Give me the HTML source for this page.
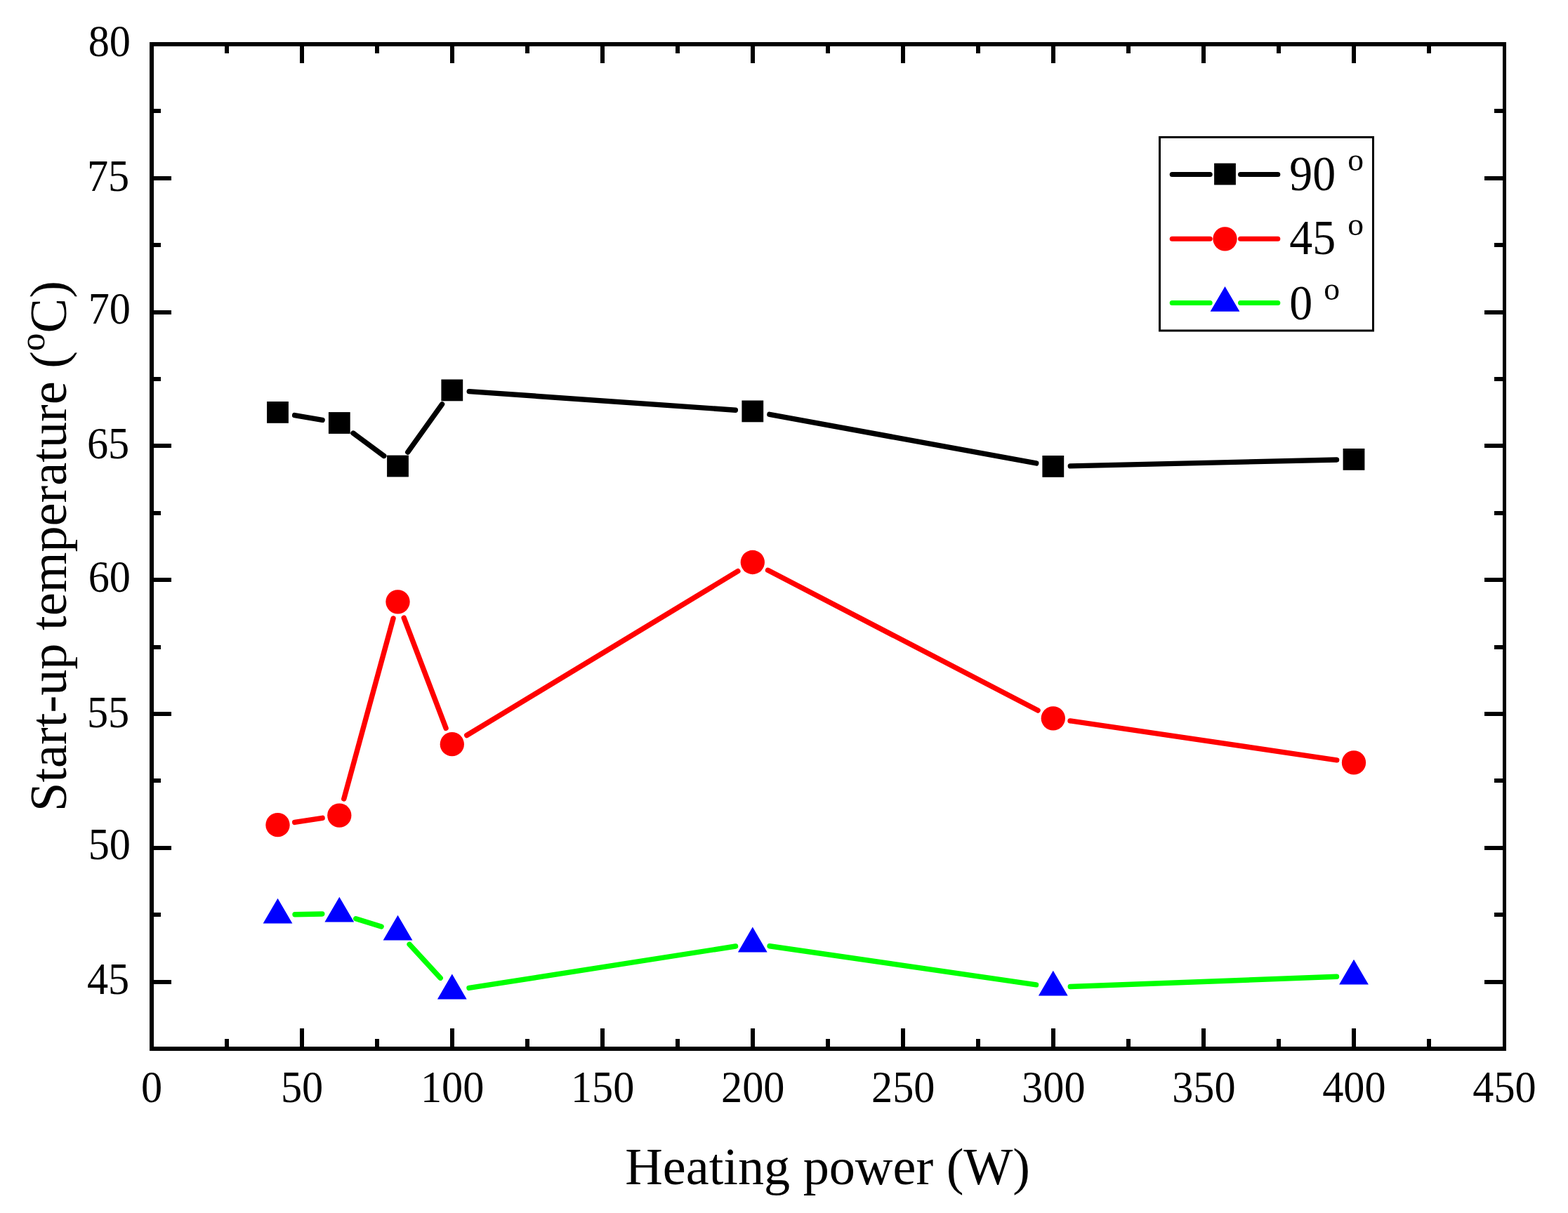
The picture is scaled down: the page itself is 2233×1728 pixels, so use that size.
<!DOCTYPE html>
<html><head><meta charset="utf-8"><title>Start-up temperature vs heating power</title>
<style>html,body{margin:0;padding:0;background:#fff;}body{width:2233px;height:1728px;overflow:hidden;}svg{display:block;}</style>
</head><body>
<svg width="2233" height="1728" viewBox="0 0 2233 1728">
<rect x="0" y="0" width="2233" height="1728" fill="#fff"/>
<g fill="#000" shape-rendering="crispEdges"><rect x="320.03" y="1480.00" width="6.00" height="11.00"/><rect x="320.03" y="66.00" width="6.00" height="10.00"/><rect x="427.06" y="1465.00" width="6.00" height="26.00"/><rect x="427.06" y="66.00" width="6.00" height="23.80"/><rect x="534.08" y="1480.00" width="6.00" height="11.00"/><rect x="534.08" y="66.00" width="6.00" height="10.00"/><rect x="641.11" y="1465.00" width="6.00" height="26.00"/><rect x="641.11" y="66.00" width="6.00" height="23.80"/><rect x="748.14" y="1480.00" width="6.00" height="11.00"/><rect x="748.14" y="66.00" width="6.00" height="10.00"/><rect x="855.17" y="1465.00" width="6.00" height="26.00"/><rect x="855.17" y="66.00" width="6.00" height="23.80"/><rect x="962.19" y="1480.00" width="6.00" height="11.00"/><rect x="962.19" y="66.00" width="6.00" height="10.00"/><rect x="1069.22" y="1465.00" width="6.00" height="26.00"/><rect x="1069.22" y="66.00" width="6.00" height="23.80"/><rect x="1176.25" y="1480.00" width="6.00" height="11.00"/><rect x="1176.25" y="66.00" width="6.00" height="10.00"/><rect x="1283.28" y="1465.00" width="6.00" height="26.00"/><rect x="1283.28" y="66.00" width="6.00" height="23.80"/><rect x="1390.31" y="1480.00" width="6.00" height="11.00"/><rect x="1390.31" y="66.00" width="6.00" height="10.00"/><rect x="1497.33" y="1465.00" width="6.00" height="26.00"/><rect x="1497.33" y="66.00" width="6.00" height="23.80"/><rect x="1604.36" y="1480.00" width="6.00" height="11.00"/><rect x="1604.36" y="66.00" width="6.00" height="10.00"/><rect x="1711.39" y="1465.00" width="6.00" height="26.00"/><rect x="1711.39" y="66.00" width="6.00" height="23.80"/><rect x="1818.42" y="1480.00" width="6.00" height="11.00"/><rect x="1818.42" y="66.00" width="6.00" height="10.00"/><rect x="1925.44" y="1465.00" width="6.00" height="26.00"/><rect x="1925.44" y="66.00" width="6.00" height="23.80"/><rect x="2032.47" y="1480.00" width="6.00" height="11.00"/><rect x="2032.47" y="66.00" width="6.00" height="10.00"/><rect x="219.00" y="1395.60" width="25.00" height="6.00"/><rect x="2114.00" y="1395.60" width="26.00" height="6.00"/><rect x="219.00" y="1300.20" width="10.00" height="6.00"/><rect x="2128.00" y="1300.20" width="12.00" height="6.00"/><rect x="219.00" y="1204.80" width="25.00" height="6.00"/><rect x="2114.00" y="1204.80" width="26.00" height="6.00"/><rect x="219.00" y="1109.40" width="10.00" height="6.00"/><rect x="2128.00" y="1109.40" width="12.00" height="6.00"/><rect x="219.00" y="1014.00" width="25.00" height="6.00"/><rect x="2114.00" y="1014.00" width="26.00" height="6.00"/><rect x="219.00" y="918.60" width="10.00" height="6.00"/><rect x="2128.00" y="918.60" width="12.00" height="6.00"/><rect x="219.00" y="823.20" width="25.00" height="6.00"/><rect x="2114.00" y="823.20" width="26.00" height="6.00"/><rect x="219.00" y="727.80" width="10.00" height="6.00"/><rect x="2128.00" y="727.80" width="12.00" height="6.00"/><rect x="219.00" y="632.40" width="25.00" height="6.00"/><rect x="2114.00" y="632.40" width="26.00" height="6.00"/><rect x="219.00" y="537.00" width="10.00" height="6.00"/><rect x="2128.00" y="537.00" width="12.00" height="6.00"/><rect x="219.00" y="441.60" width="25.00" height="6.00"/><rect x="2114.00" y="441.60" width="26.00" height="6.00"/><rect x="219.00" y="346.20" width="10.00" height="6.00"/><rect x="2128.00" y="346.20" width="12.00" height="6.00"/><rect x="219.00" y="250.80" width="25.00" height="6.00"/><rect x="2114.00" y="250.80" width="26.00" height="6.00"/><rect x="219.00" y="155.40" width="10.00" height="6.00"/><rect x="2128.00" y="155.40" width="12.00" height="6.00"/><rect x="213.00" y="60.00" width="6.00" height="1437.00"/><rect x="213.00" y="60.00" width="1932.00" height="6.00"/><rect x="2140.00" y="60.00" width="5.00" height="1437.00"/><rect x="213.00" y="1491.00" width="1932.00" height="6.00"/></g>
<g font-family="Liberation Serif, Times New Roman, serif" font-size="63.5" fill="#000"><text transform="translate(216.00,1569.8) scale(0.95,1)" text-anchor="middle">0</text><text transform="translate(430.06,1569.8) scale(0.95,1)" text-anchor="middle">50</text><text transform="translate(644.11,1569.8) scale(0.95,1)" text-anchor="middle">100</text><text transform="translate(858.17,1569.8) scale(0.95,1)" text-anchor="middle">150</text><text transform="translate(1072.22,1569.8) scale(0.95,1)" text-anchor="middle">200</text><text transform="translate(1286.28,1569.8) scale(0.95,1)" text-anchor="middle">250</text><text transform="translate(1500.33,1569.8) scale(0.95,1)" text-anchor="middle">300</text><text transform="translate(1714.39,1569.8) scale(0.95,1)" text-anchor="middle">350</text><text transform="translate(1928.44,1569.8) scale(0.95,1)" text-anchor="middle">400</text><text transform="translate(2142.50,1569.8) scale(0.95,1)" text-anchor="middle">450</text><text transform="translate(184.2,1415.50) scale(0.95,1)" text-anchor="end">45</text><text transform="translate(186,1224.20) scale(0.95,1)" text-anchor="end">50</text><text transform="translate(184.2,1035.50) scale(0.95,1)" text-anchor="end">55</text><text transform="translate(186,843.00) scale(0.95,1)" text-anchor="end">60</text><text transform="translate(184.2,652.50) scale(0.95,1)" text-anchor="end">65</text><text transform="translate(186,461.40) scale(0.95,1)" text-anchor="end">70</text><text transform="translate(184.2,271.60) scale(0.95,1)" text-anchor="end">75</text><text transform="translate(186,79.50) scale(0.95,1)" text-anchor="end">80</text></g>
<text x="890.3" y="1687" font-family="Liberation Serif, serif" font-size="74.2" fill="#000">Heating power (W)</text>
<text transform="translate(94.2,1155.9) rotate(-90)" font-family="Liberation Serif, serif" font-size="74.3" fill="#000">Start-up temperature (<tspan font-size="51" dy="-31">o</tspan><tspan dy="31">C)</tspan></text>
<g stroke="#000" stroke-width="7.4" stroke-linecap="round"><line x1="419.65" y1="591.55" x2="459.15" y2="598.35"/><line x1="503.00" y1="617.06" x2="546.80" y2="649.44"/><line x1="580.75" y1="644.07" x2="629.55" y2="575.83"/><line x1="668.24" y1="557.61" x2="1047.36" y2="584.19"/><line x1="1095.90" y1="590.32" x2="1475.70" y2="659.98"/><line x1="1524.29" y1="663.83" x2="1903.51" y2="654.97"/></g>
<g stroke="#f00" stroke-width="7.4" stroke-linecap="round"><line x1="419.71" y1="1171.45" x2="459.09" y2="1165.35"/><line x1="489.76" y1="1137.97" x2="560.04" y2="880.93"/><line x1="575.22" y1="880.19" x2="635.08" y2="1037.31"/><line x1="664.76" y1="1047.51" x2="1050.84" y2="813.69"/><line x1="1093.54" y1="812.29" x2="1478.06" y2="1012.01"/><line x1="1524.04" y1="1026.87" x2="1903.76" y2="1082.83"/></g>
<g stroke="#0f0" stroke-width="7.4" stroke-linecap="round"><line x1="419.99" y1="1302.77" x2="458.81" y2="1301.93"/><line x1="506.69" y1="1308.68" x2="543.11" y2="1320.02"/><line x1="583.10" y1="1345.32" x2="627.20" y2="1393.18"/><line x1="668.01" y1="1407.41" x2="1047.59" y2="1347.99"/><line x1="1096.05" y1="1347.72" x2="1475.55" y2="1402.88"/><line x1="1524.28" y1="1405.49" x2="1903.52" y2="1391.31"/></g>
<g fill="#000"><rect x="380.10" y="572.00" width="30.8" height="30.8"/><rect x="467.90" y="587.10" width="30.8" height="30.8"/><rect x="551.10" y="648.60" width="30.8" height="30.8"/><rect x="628.40" y="540.50" width="30.8" height="30.8"/><rect x="1056.40" y="570.50" width="30.8" height="30.8"/><rect x="1484.40" y="649.00" width="30.8" height="30.8"/><rect x="1912.60" y="639.00" width="30.8" height="30.8"/></g>
<g fill="#f00"><circle cx="395.50" cy="1175.20" r="17.15"/><circle cx="483.30" cy="1161.60" r="17.15"/><circle cx="566.50" cy="857.30" r="17.15"/><circle cx="643.80" cy="1060.20" r="17.15"/><circle cx="1071.80" cy="801.00" r="17.15"/><circle cx="1499.80" cy="1023.30" r="17.15"/><circle cx="1928.00" cy="1086.40" r="17.15"/></g>
<g fill="#00f"><polygon points="395.50,1279.70 416.40,1315.50 374.60,1315.50"/><polygon points="483.30,1277.80 504.20,1313.60 462.40,1313.60"/><polygon points="566.50,1303.70 587.40,1339.50 545.60,1339.50"/><polygon points="643.80,1387.60 664.70,1423.40 622.90,1423.40"/><polygon points="1071.80,1320.60 1092.70,1356.40 1050.90,1356.40"/><polygon points="1499.80,1382.80 1520.70,1418.60 1478.90,1418.60"/><polygon points="1928.00,1366.80 1948.90,1402.60 1907.10,1402.60"/></g>
<rect x="1651.5" y="195.5" width="304" height="275.5" fill="#fff" stroke="#000" stroke-width="3"/>
<g stroke="#000" stroke-width="7" stroke-linecap="round"><line x1="1669.2" y1="248.5" x2="1723.2" y2="248.5"/><line x1="1766.5" y1="248.5" x2="1819.8" y2="248.5"/></g>
<g fill="#000"><rect x="1729.10" y="232.60" width="30.8" height="30.8"/></g>
<text transform="translate(1836.2,271.3) scale(0.955,1)" font-family="Liberation Serif, serif" font-size="69" fill="#000">90 </text>
<text transform="translate(1919.2,243.0) scale(0.97,1)" font-family="Liberation Serif, serif" font-size="47" fill="#000">o</text>
<g stroke="#f00" stroke-width="7" stroke-linecap="round"><line x1="1669.2" y1="340.3" x2="1723.2" y2="340.3"/><line x1="1766.5" y1="340.3" x2="1819.8" y2="340.3"/></g>
<g fill="#f00"><circle cx="1744.50" cy="340.30" r="17.15"/></g>
<text transform="translate(1836.2,361.6) scale(0.955,1)" font-family="Liberation Serif, serif" font-size="69" fill="#000">45 </text>
<text transform="translate(1919.2,335.0) scale(0.97,1)" font-family="Liberation Serif, serif" font-size="47" fill="#000">o</text>
<g stroke="#0f0" stroke-width="7" stroke-linecap="round"><line x1="1669.2" y1="431.6" x2="1723.2" y2="431.6"/><line x1="1766.5" y1="431.6" x2="1819.8" y2="431.6"/></g>
<g fill="#00f"><polygon points="1744.50,408.00 1765.40,443.80 1723.60,443.80"/></g>
<text transform="translate(1836.2,454.9) scale(0.955,1)" font-family="Liberation Serif, serif" font-size="69" fill="#000">0 </text>
<text transform="translate(1885.2,426.6) scale(0.97,1)" font-family="Liberation Serif, serif" font-size="47" fill="#000">o</text>
</svg>
</body></html>
